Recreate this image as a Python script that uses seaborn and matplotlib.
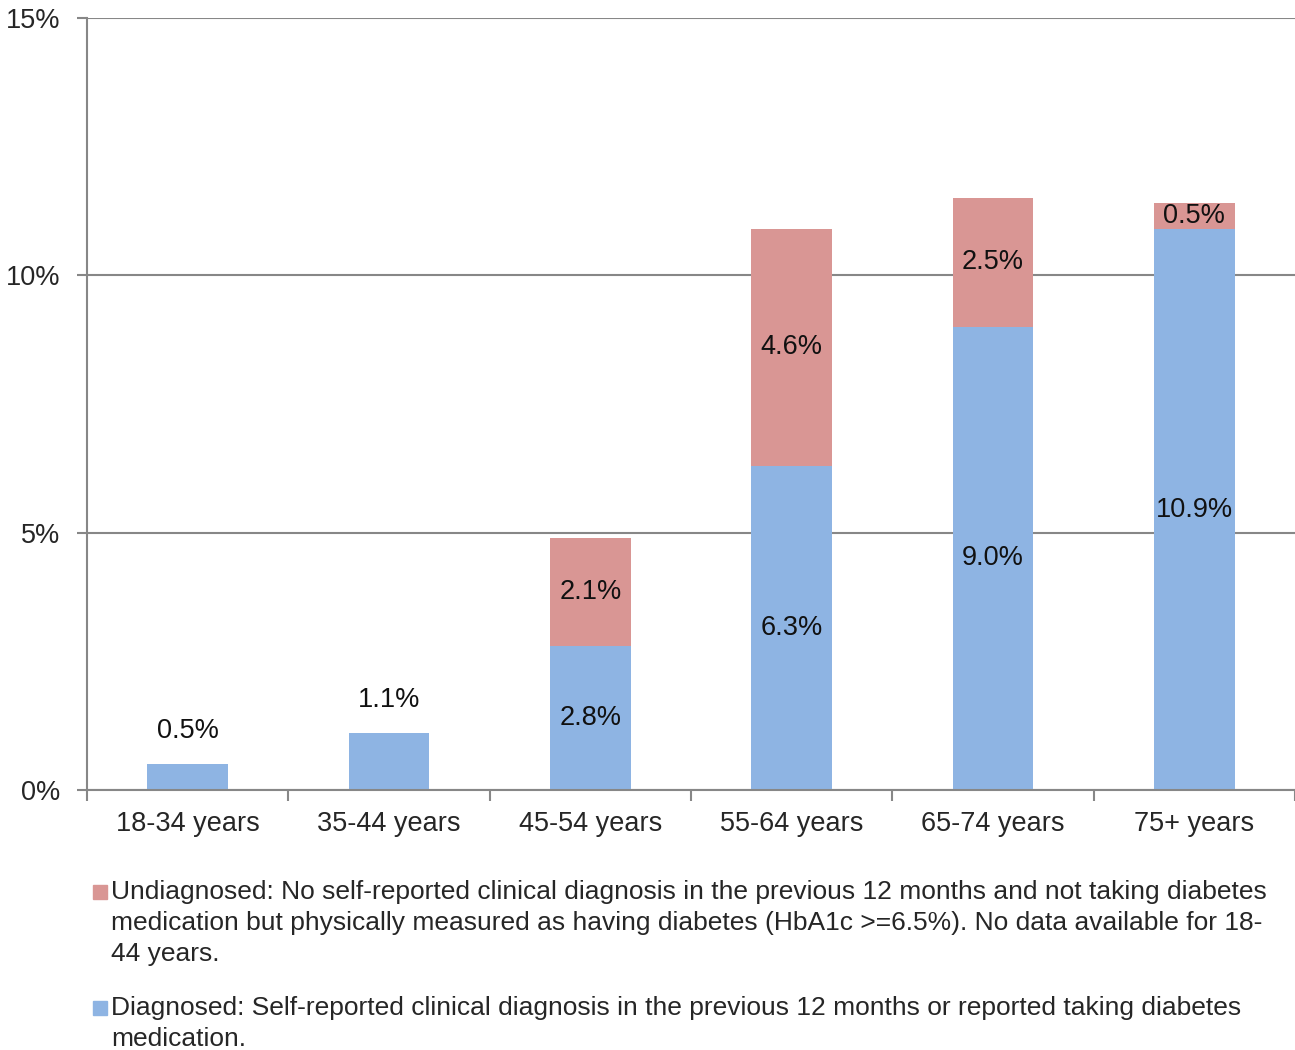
import numpy as np
import pandas as pd
import matplotlib
matplotlib.use("Agg")
import matplotlib.pyplot as plt
import seaborn as sns
from matplotlib.patches import Rectangle
from matplotlib.ticker import FixedLocator, PercentFormatter

# --- data ---
age_groups = ["18-34 years", "35-44 years", "45-54 years", "55-64 years", "65-74 years", "75+ years"]
diagnosed = [0.5, 1.1, 2.8, 6.3, 9.0, 10.9]
undiagnosed = [np.nan, np.nan, 2.1, 4.6, 2.5, 0.5]
y_ticks = [0, 5, 10, 15]

legend_undiag = ("Undiagnosed: No self-reported clinical diagnosis in the previous 12 months and not taking diabetes\n"
                 "medication but physically measured as having diabetes (HbA1c >=6.5%). No data available for 18-\n"
                 "44 years.")
legend_diag = ("Diagnosed: Self-reported clinical diagnosis in the previous 12 months or reported taking diabetes\n"
               "medication.")

BLUE = "#8EB4E3"
PINK = "#D99694"
GREY = "#878787"

df = pd.DataFrame({"age": age_groups, "diag": diagnosed, "undiag": undiagnosed})
df["total"] = df["diag"] + df["undiag"].fillna(0)

sns.set_style("white")
plt.rcParams["font.family"] = ["Liberation Sans", "DejaVu Sans"]
FS = 19.5
FS_LEG = 19

fig = plt.figure(figsize=(12.95, 10.5), dpi=100)
ax = fig.add_axes([0.0672, 0.2476, 0.9328, 0.7353])

# stacked bars: totals in pink, diagnosed drawn on top in blue
sns.barplot(data=df, x="age", y="total", color=PINK, width=0.4, saturation=1, ax=ax, linewidth=0)
sns.barplot(data=df, x="age", y="diag", color=BLUE, width=0.4, saturation=1, ax=ax, linewidth=0)

# value labels
for i, row in df.iterrows():
    if np.isnan(row["undiag"]):
        ax.annotate(f"{row['diag']:.1f}%", (i, row["diag"]), xytext=(0, 24), textcoords="offset points",
                    ha="center", va="center", fontsize=FS, color="#111111")
    else:
        ax.text(i, row["diag"] / 2, f"{row['diag']:.1f}%", ha="center", va="center", fontsize=FS, color="#111111")
        ax.text(i, row["diag"] + row["undiag"] / 2, f"{row['undiag']:.1f}%", ha="center", va="center",
                fontsize=FS, color="#111111")

ax.set_ylim(0, 15)
ax.set_xlim(-0.5, len(age_groups) - 0.5)
ax.yaxis.set_major_locator(FixedLocator(y_ticks))
ax.yaxis.set_major_formatter(PercentFormatter(decimals=0))
ax.grid(axis="y", color=GREY, linewidth=1.5)
ax.set_axisbelow(True)
ax.set_xlabel("")
ax.set_ylabel("")

for side in ["top", "right"]:
    ax.spines[side].set_visible(False)
for side in ["left", "bottom"]:
    ax.spines[side].set_color(GREY)
    ax.spines[side].set_linewidth(1.5)

ax.tick_params(axis="y", length=7, width=1.5, color=GREY, pad=12, labelsize=FS, left=True)
ax.tick_params(axis="x", which="major", length=0, pad=15, labelsize=FS)
ax.set_xticks(np.arange(-0.5, len(age_groups)), minor=True)
ax.tick_params(axis="x", which="minor", length=8, width=1.5, color=GREY, bottom=True)

# legend below the chart
fig.patches.append(Rectangle((93 / 1295, 1 - 899 / 1050), 14 / 1295, 14 / 1050,
                             transform=fig.transFigure, color=PINK))
fig.text(111 / 1295, 1 - 880 / 1050, legend_undiag, ha="left", va="top", fontsize=FS_LEG, linespacing=1.37)
fig.patches.append(Rectangle((93 / 1295, 1 - 1015 / 1050), 14 / 1295, 14 / 1050,
                             transform=fig.transFigure, color=BLUE))
fig.text(111 / 1295, 1 - 996 / 1050, legend_diag, ha="left", va="top", fontsize=FS_LEG, linespacing=1.37)

fig.savefig("out.png", dpi=100)
